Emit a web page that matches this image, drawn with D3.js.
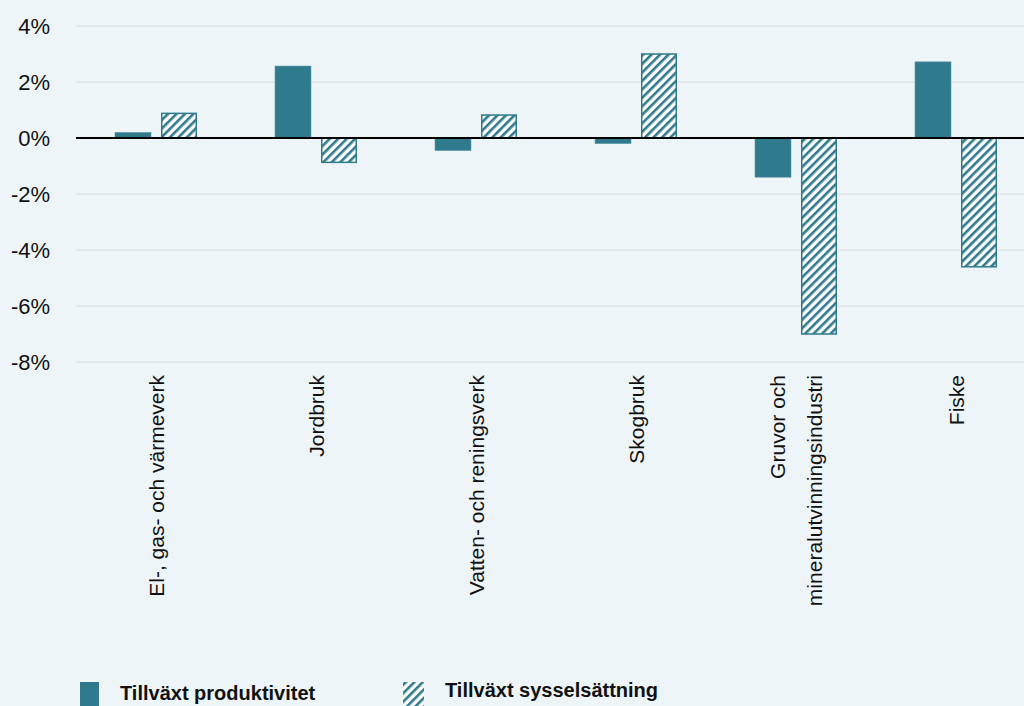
<!DOCTYPE html>
<html>
<head>
<meta charset="utf-8">
<script src="https://cdn.jsdelivr.net/npm/d3@7"></script>
<style>
  html, body { margin: 0; padding: 0; background: #eef5f8; }
  svg { display: block; }
  text { font-family: "Liberation Sans Narrow", "Arial Narrow", "Liberation Sans", Arial, sans-serif; fill: #111; }
</style>
</head>
<body>
<div id="chart"></div>
<script>
// Branscher (x-axeln)
const kategorier = [
  ["El-, gas- och värmeverk"],
  ["Jordbruk"],
  ["Vatten- och reningsverk"],
  ["Skogbruk"],
  ["Gruvor och", "mineralutvinningsindustri"],
  ["Fiske"]
];
const produktivitet = [0.2, 2.57, -0.45, -0.2, -1.4, 2.72];
const sysselsattning = [0.88, -0.87, 0.82, 3.0, -7.0, -4.6];
const serier = ["Tillväxt produktivitet", "Tillväxt sysselsättning"];
const yTicks = [4, 2, 0, -2, -4, -6, -8];

const farg = "#2f7a8c";
const width = 1024, height = 706;
const margin = { left: 77, top: 26, bottom: 344 };

const svg = d3.select("#chart").append("svg")
  .attr("width", width)
  .attr("height", height);

const defs = svg.append("defs");
const pat = defs.append("pattern")
  .attr("id", "hatch")
  .attr("patternUnits", "userSpaceOnUse")
  .attr("width", 6).attr("height", 6)
  .attr("patternTransform", "rotate(45)");
pat.append("rect").attr("width", 6).attr("height", 6).attr("fill", "#fff");
pat.append("rect").attr("width", 2.6).attr("height", 6).attr("fill", farg);

// banden fortsätter något utanför bildens högerkant
const x = d3.scaleBand()
  .domain(d3.range(kategorier.length))
  .range([76, 1036]);

const y = d3.scaleLinear()
  .domain([-8, 4])
  .range([height - margin.bottom, margin.top]);

// rutnät
svg.append("g")
  .selectAll("line")
  .data(yTicks.filter(d => d !== 0))
  .join("line")
  .attr("x1", margin.left - 1)
  .attr("x2", width)
  .attr("y1", d => y(d))
  .attr("y2", d => y(d))
  .attr("stroke", "#d9dcde")
  .attr("stroke-width", 1);

// y-etiketter
svg.append("g")
  .selectAll("text")
  .data(yTicks)
  .join("text")
  .attr("x", 50)
  .attr("y", d => y(d))
  .attr("dy", "0.36em")
  .attr("text-anchor", "end")
  .style("font-family", "'Liberation Sans', Arial, sans-serif")
  .style("font-size", "22px")
  .text(d => d + "%");

const barW = 36, gap = 10;

const g = svg.append("g");
g.selectAll(".prod")
  .data(produktivitet)
  .join("rect")
  .attr("class", "prod")
  .attr("x", (d, i) => x(i) + x.bandwidth() / 2 - gap / 2 - barW)
  .attr("y", d => y(Math.max(0, d)))
  .attr("width", barW)
  .attr("height", d => Math.abs(y(d) - y(0)))
  .attr("fill", farg)
  .attr("stroke", "#5f9aa8")
  .attr("stroke-width", 0.6);

g.selectAll(".syss")
  .data(sysselsattning)
  .join("rect")
  .attr("class", "syss")
  .attr("x", (d, i) => x(i) + x.bandwidth() / 2 + gap / 2 + 0.75)
  .attr("y", d => y(Math.max(0, d)))
  .attr("width", barW - 1.5)
  .attr("height", d => Math.abs(y(d) - y(0)))
  .attr("fill", "url(#hatch)")
  .attr("stroke", farg)
  .attr("stroke-width", 1.5);

// nollinje
svg.append("line")
  .attr("x1", margin.left - 1)
  .attr("x2", width)
  .attr("y1", y(0))
  .attr("y2", y(0))
  .attr("stroke", "#000")
  .attr("stroke-width", 2);

// kategorietiketter, roterade
const lab = svg.append("g")
  .selectAll("text")
  .data(kategorier)
  .join("text")
  .attr("transform", (d, i) => `translate(${x(i) + x.bandwidth() / 2},${y(-8) + 13}) rotate(-90)`)
  .attr("text-anchor", "end")
  .style("font-size", "21px");

lab.selectAll("tspan")
  .data(d => d.map((t, j) => ({ t, j, n: d.length })))
  .join("tspan")
  .attr("x", 0)
  .attr("y", d => (d.j - (d.n - 1) / 2) * 37)
  .attr("dy", "0.36em")
  .text(d => d.t);

// legend
const leg = svg.append("g");
leg.append("rect")
  .attr("x", 80).attr("y", 682)
  .attr("width", 19).attr("height", 24)
  .attr("fill", farg);
leg.append("text")
  .attr("x", 120).attr("y", 700)
  .style("font-size", "20px")
  .style("font-weight", "bold")
  .text(serier[0]);

leg.append("rect")
  .attr("x", 403).attr("y", 682)
  .attr("width", 21).attr("height", 24)
  .attr("fill", "url(#hatch)");
leg.append("text")
  .attr("x", 445).attr("y", 697)
  .style("font-size", "20px")
  .style("font-weight", "bold")
  .text(serier[1]);
</script>
</body>
</html>
